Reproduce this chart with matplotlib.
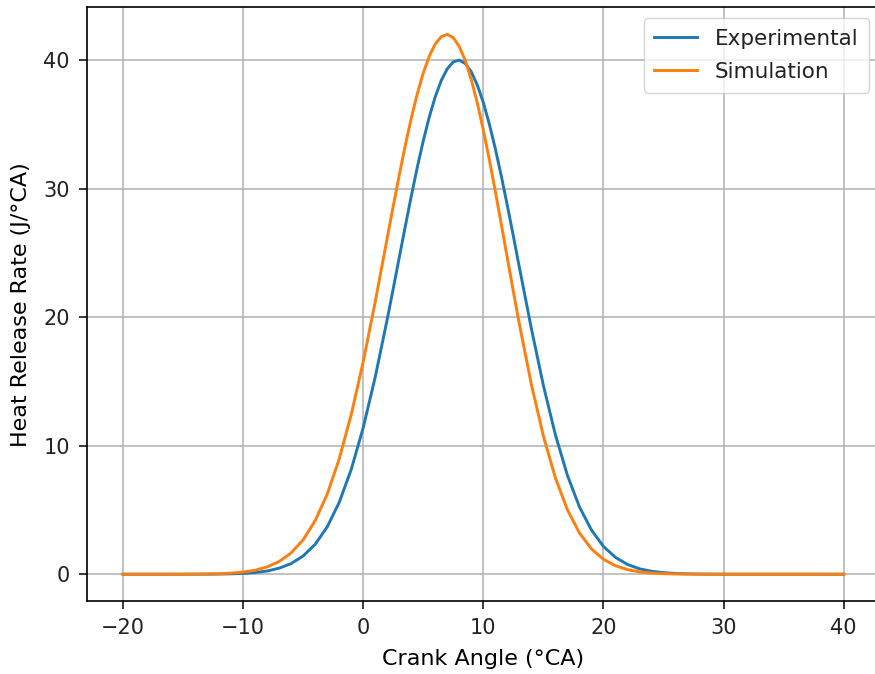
import matplotlib
matplotlib.use("Agg")
import matplotlib.pyplot as plt

# crank angle samples (finer spacing around the peak)
crank_angle = [-20, -19, -18, -17, -16, -15, -14, -13, -12, -11, -10, -9, -8, -7, -6,
               -5, -4, -3, -2, -1, 0, 1,
               2, 2.5, 3, 3.5, 4, 4.5, 5, 5.5, 6, 6.5, 7, 7.5, 8, 8.5, 9, 9.5,
               10, 10.5, 11, 11.5, 12, 12.5, 13,
               14, 15, 16, 17, 18, 19, 20, 21, 22, 23, 24, 25, 26, 27, 28, 29,
               30, 31, 32, 33, 34, 35, 36, 37, 38, 39, 40]

hrr_experimental = [0.0, 0.0, 0.0, 0.0002, 0.0004, 0.0011, 0.0027, 0.0063, 0.014, 0.031,
                    0.065, 0.13, 0.25, 0.47, 0.83,
                    1.42, 2.33, 3.68, 5.59, 8.15, 11.41, 15.35,
                    19.85, 22.23, 24.65, 27.06, 29.42, 31.66, 33.73, 35.58, 37.16, 38.42,
                    39.33, 39.86, 40.00, 39.73, 39.08, 38.05,
                    36.69, 35.02, 33.09, 30.96, 28.67, 26.30, 23.87,
                    19.10, 14.68, 10.84, 7.69, 5.24, 3.44, 2.16, 1.31, 0.76, 0.42,
                    0.23, 0.12, 0.058, 0.028, 0.013, 0.0055,
                    0.002, 0.0, 0.0, 0.0, 0.0, 0.0, 0.0, 0.0, 0.0, 0.0, 0.0]

hrr_simulation = [0.0, 0.0001, 0.0003, 0.0007, 0.0017, 0.0039, 0.009, 0.020, 0.042, 0.085,
                  0.17, 0.31, 0.57, 0.99, 1.66,
                  2.68, 4.17, 6.23, 8.97, 12.42, 16.54, 21.21,
                  26.17, 28.65, 31.06, 33.37, 35.49, 37.38, 39.01, 40.31, 41.26, 41.83,
                  42.00, 41.74, 41.05, 39.95, 38.47, 36.65,
                  34.56, 32.24, 29.77, 27.19, 24.58, 21.98, 19.45,
                  14.76, 10.74, 7.49, 5.01, 3.21, 1.97, 1.16, 0.66, 0.36, 0.18,
                  0.092, 0.044, 0.020, 0.009, 0.004, 0.0015,
                  0.0, 0.0, 0.0, 0.0, 0.0, 0.0, 0.0, 0.0, 0.0, 0.0, 0.0]

plt.rcParams['axes.linewidth'] = 1.2
plt.rcParams['xtick.major.size'] = 5.8
plt.rcParams['ytick.major.size'] = 5.8
plt.rcParams['xtick.major.width'] = 1.1
plt.rcParams['ytick.major.width'] = 1.1
plt.rcParams['xtick.major.pad'] = 6
plt.rcParams['ytick.major.pad'] = 6.5
plt.rcParams['text.color'] = '#222222'

fig = plt.figure(figsize=(8.75, 6.74), dpi=100)
ax = fig.add_axes([0.0994, 0.108, 0.906, 0.881])

ax.plot(crank_angle, hrr_experimental, color='#1f77b4', linewidth=2.1, label='Experimental')
ax.plot(crank_angle, hrr_simulation, color='#ff7f0e', linewidth=2.1, label='Simulation')

ax.set_xlabel('Crank Angle (°CA)', fontsize=16, labelpad=8)
ax.set_ylabel('Heat Release Rate (J/°CA)', fontsize=16, labelpad=9)
ax.tick_params(labelsize=15, labelcolor='#222222')
ax.grid(True, linewidth=1.1)
# right frame edge falls outside the saved canvas
ax.spines['right'].set_visible(False)
ax.legend(loc='upper right', fontsize=15.5, borderaxespad=0.5, handlelength=2.0,
          labelspacing=0.6, borderpad=0.5)

fig.savefig('out.png', dpi=100)
